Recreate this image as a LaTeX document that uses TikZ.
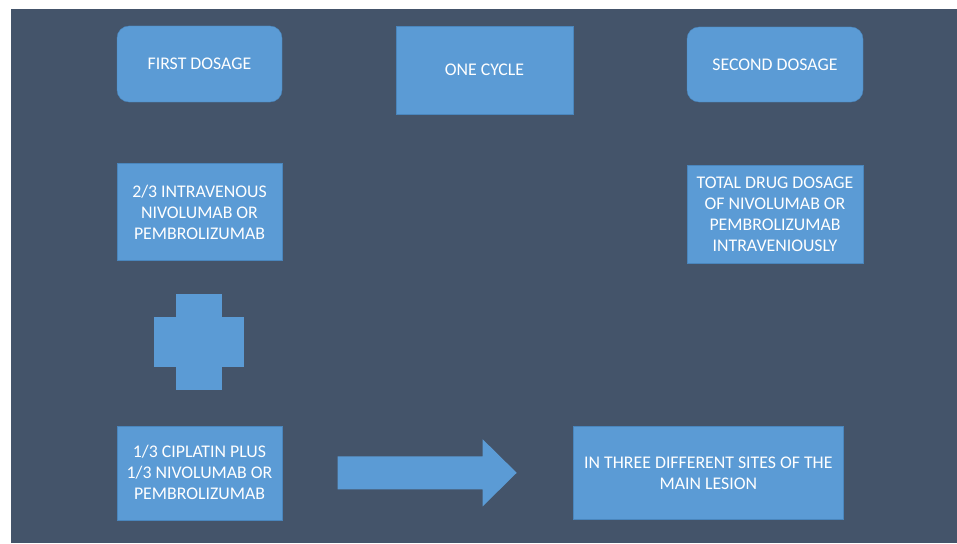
\documentclass[tikz,border=0pt]{standalone}
\usepackage{fontspec}
\setmainfont{Carlito}
\usepackage{tikz}
\usetikzlibrary{positioning,calc}
\definecolor{slate}{HTML}{44546A}
\definecolor{boxblue}{HTML}{5B9BD5}
\definecolor{boxedge}{HTML}{4A86BD}
\tikzset{
  box/.style={draw=boxedge,fill=boxblue,text=white,align=center,font=\fontsize{17.8}{21}\selectfont,inner sep=4pt,minimum width=165pt},
  roundbox/.style={box,rounded corners=12pt},
  shapefill/.style={fill=boxblue}
}
\begin{document}
\begin{tikzpicture}[x=1pt,y=-1pt,node distance=60pt and 60pt]
  \useasboundingbox (0,0) rectangle (957,543);
  \fill[slate] (11,9) rectangle (957,543);
  % top row
  \node[roundbox,minimum height=76pt] (first) at (199.5,64) {FIRST DOSAGE};
  \node[box,minimum width=177pt,minimum height=88pt] (cycle) at (484.5,70) {ONE CYCLE};
  \node[roundbox,minimum width=176pt,minimum height=75pt] (second) at (775,64.5) {SECOND DOSAGE};
  % second row
  \node[box,below=61pt of first,minimum height=97pt] (intra) {2/3 INTRAVENOUS\\NIVOLUMAB OR\\PEMBROLIZUMAB};
  \node[box,below=63pt of second,minimum width=176pt,minimum height=98pt] (total) {TOTAL DRUG DOSAGE\\OF NIVOLUMAB OR\\PEMBROLIZUMAB\\INTRAVENIOUSLY};
  % bottom row
  \node[box,below=165pt of intra,minimum height=94pt] (cisplatin) {1/3 CIPLATIN PLUS\\1/3 NIVOLUMAB OR\\PEMBROLIZUMAB};
  \node[box,right=291pt of cisplatin,minimum width=270pt,minimum height=93pt] (sites) {IN THREE DIFFERENT SITES OF THE\\MAIN LESION};
  % plus sign
  \coordinate (plus) at (199,342);
  \fill[shapefill] ($(plus)+(-23,-48)$) rectangle ($(plus)+(23,48)$);
  \fill[shapefill] ($(plus)+(-45,-25)$) rectangle ($(plus)+(45,25)$);
  % block arrow
  \coordinate (mid) at ($(cisplatin.east)!0.5!(sites.west)$);
  \fill[shapefill] ($(mid)+(-90,-16.5)$) -- ($(mid)+(55,-16.5)$) -- ($(mid)+(55,-33.5)$)
    -- ($(mid)+(89,0)$) -- ($(mid)+(55,33.5)$) -- ($(mid)+(55,16.5)$) -- ($(mid)+(-90,16.5)$) -- cycle;
\end{tikzpicture}
\end{document}
